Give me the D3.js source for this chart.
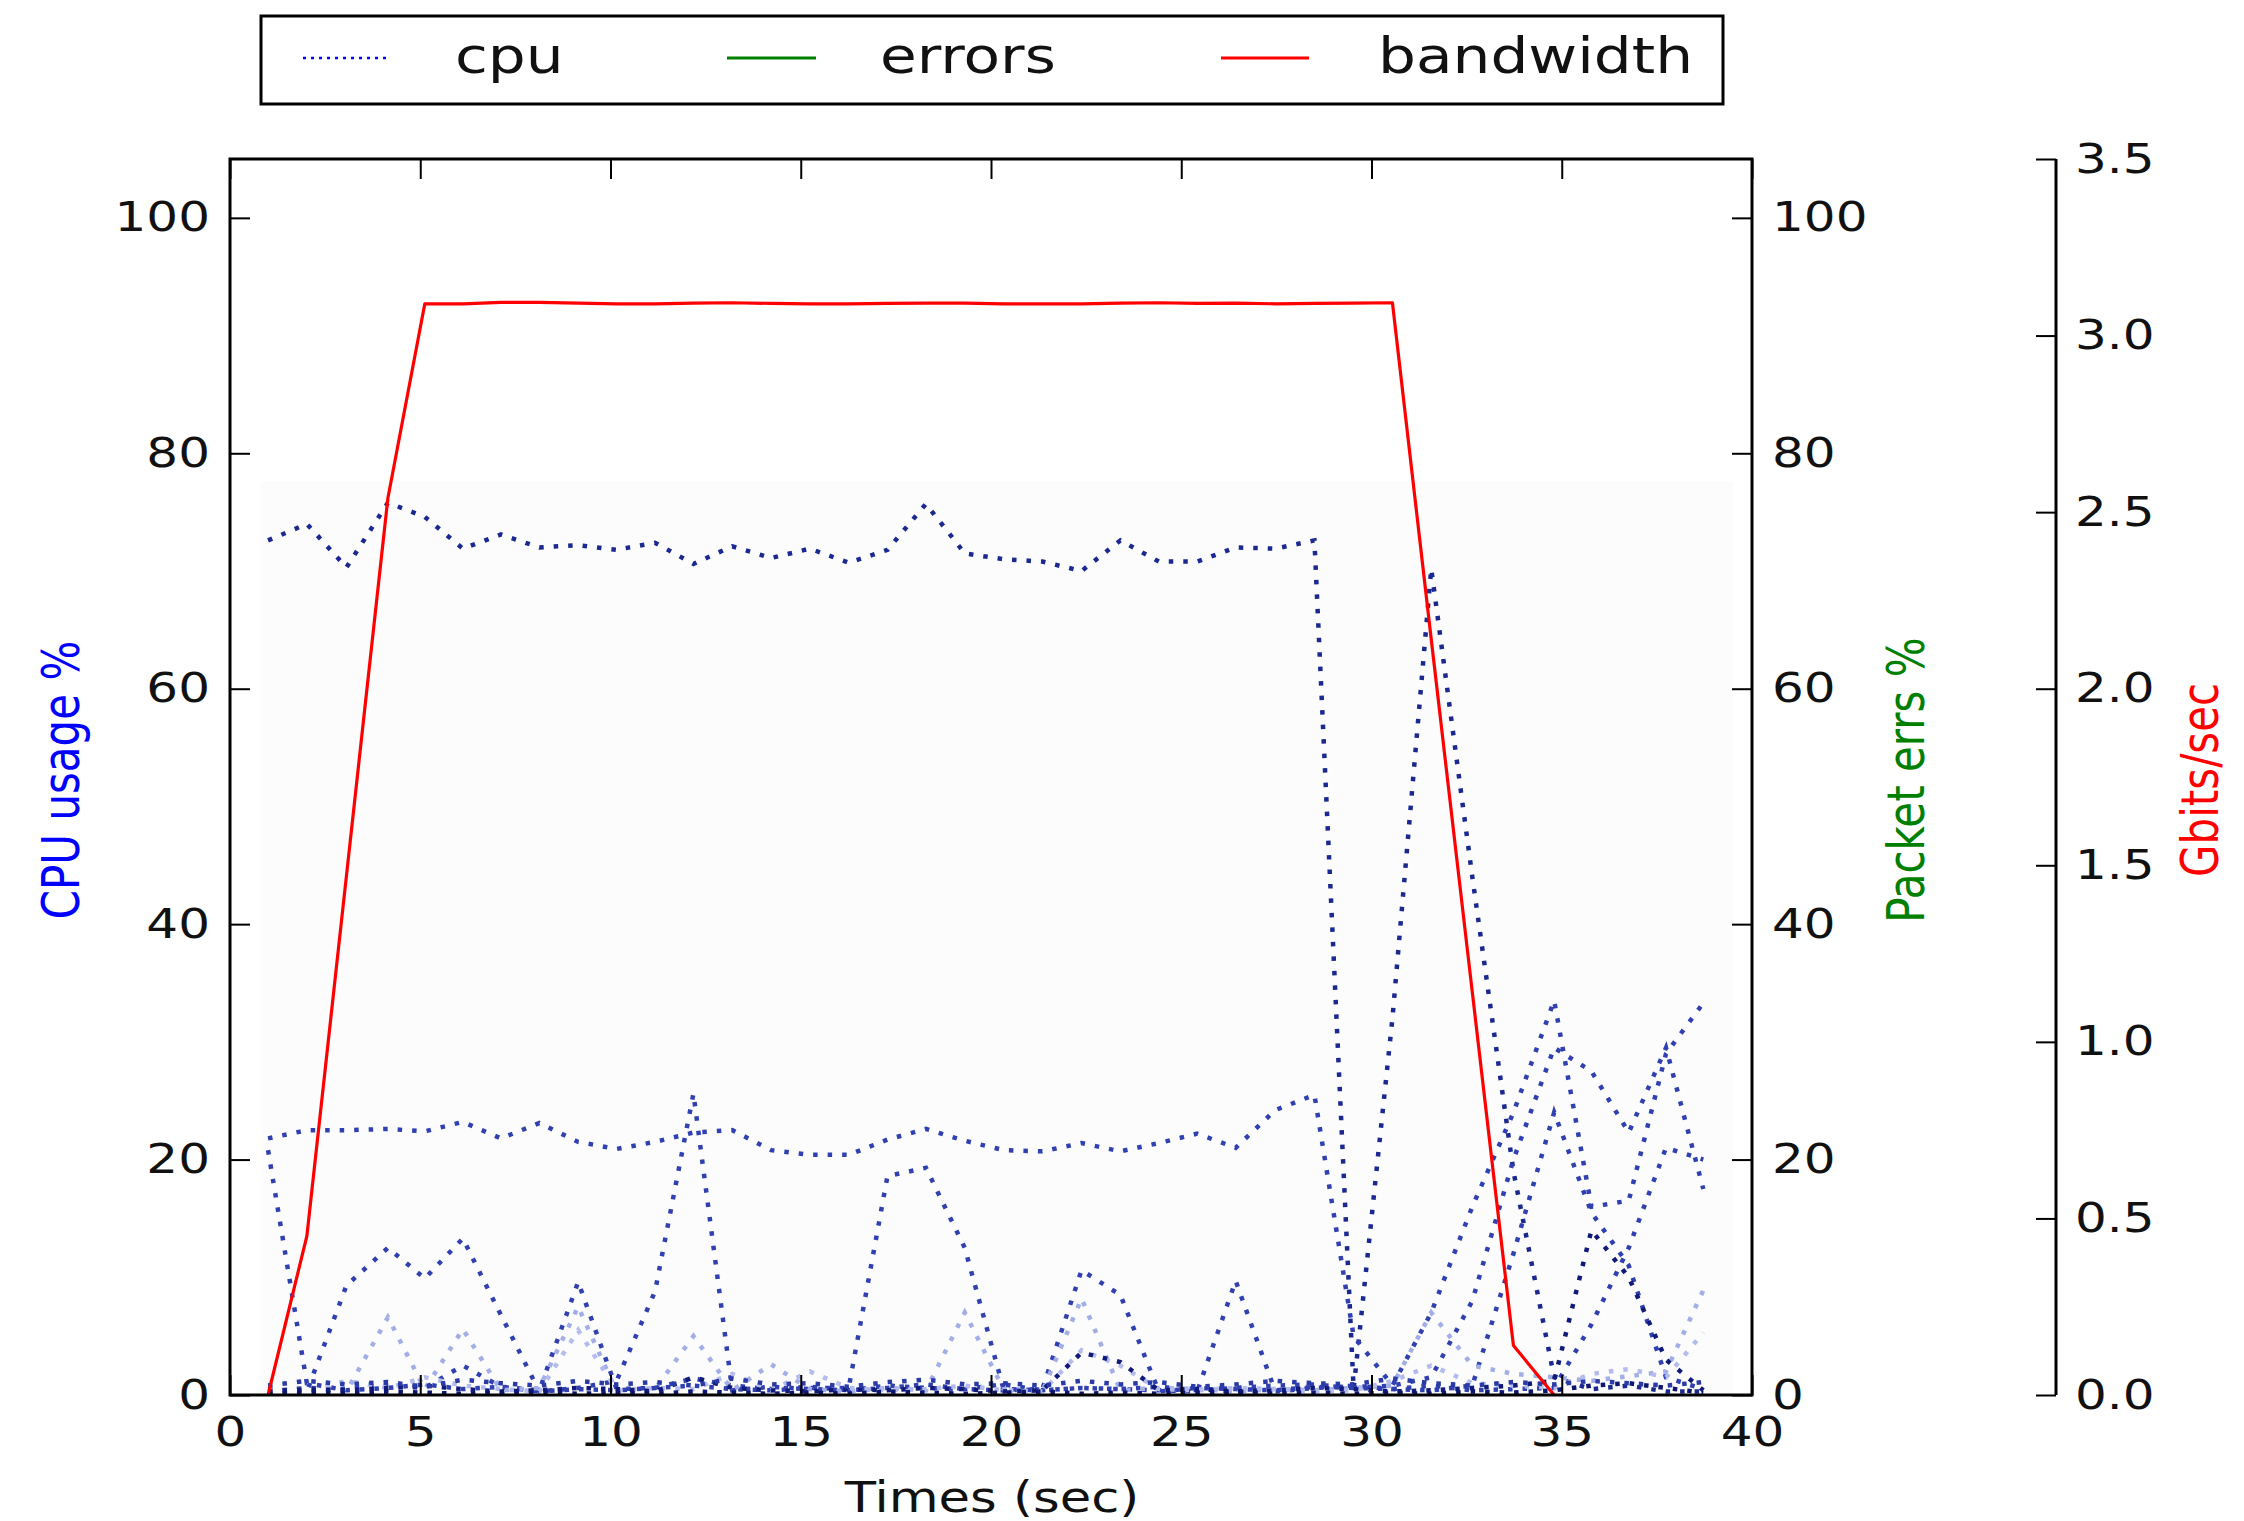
<!DOCTYPE html>
<html>
<head>
<meta charset="utf-8">
<script src="https://cdn.jsdelivr.net/npm/d3@7"></script>
<style>
  body { margin: 0; background: #fff; }
  svg { display: block; font-family: "DejaVu Sans", sans-serif; }
</style>
</head>
<body>
<div id="chart"></div>
<script>
// sample times (sec), shared by every series
const times = [1.00, 2.02, 3.06, 4.15, 5.12, 6.12, 7.12, 8.13, 9.15, 10.16,
  11.17, 12.18, 13.20, 14.22, 15.24, 16.26, 17.28, 18.29, 19.31, 20.33,
  21.35, 22.38, 23.40, 24.41, 25.42, 26.43, 27.47, 28.50, 29.53, 30.55,
  31.57, 32.65, 33.73, 34.80, 35.78, 36.76, 37.74, 38.72];

// cpu usage %, one array per core
const cpu0 = [72.6, 74.0, 70.3, 75.8, 74.6, 71.9, 73.1, 72.0, 72.2, 71.8,
  72.4, 70.6, 72.1, 71.1, 71.9, 70.7, 71.8, 75.7, 71.5, 71.0,
  70.8, 70.0, 72.6, 70.8, 70.8, 72.0, 71.9, 72.6, 0.5, 32.0,
  70.2, 44.0, 19.0, 1.5, 0.5, 0.8, 0.3, 0.3];
const cpu1 = [21.8, 22.5, 22.5, 22.6, 22.4, 23.2, 21.8, 23.1, 21.5, 20.9,
  21.5, 22.3, 22.5, 20.8, 20.4, 20.4, 21.7, 22.6, 21.6, 20.8,
  20.7, 21.4, 20.7, 21.4, 22.2, 21.0, 24.2, 25.5, 5.0, 0.8,
  7.0, 16.0, 24.0, 33.5, 16.0, 16.5, 29.0, 33.3];
const cpu2 = [20.8, 1.0, 0.4, 0.6, 0.9, 0.5, 0.7, 0.3, 0.6, 1.2,
  8.8, 25.6, 0.4, 0.7, 0.5, 0.4, 0.8, 0.6, 0.5, 0.9,
  0.4, 0.6, 0.5, 0.7, 0.4, 0.6, 0.8, 0.9, 0.6, 0.8,
  1.5, 8.0, 20.0, 29.5, 27.5, 22.3, 29.5, 17.5];
const cpu3 = [0.5, 0.3, 9.3, 12.5, 9.9, 13.3, 6.8, 0.3, 0.5, 0.4,
  0.6, 0.8, 0.5, 0.4, 0.6, 0.6, 18.6, 19.3, 12.5, 0.5,
  0.4, 0.6, 0.5, 0.4, 0.3, 9.7, 0.3, 0.6, 0.8, 0.5,
  0.4, 0.8, 12.0, 24.0, 15.5, 11.0, 1.5, 0.5];
const cpu4 = [0.3, 0.6, 0.5, 0.8, 0.6, 2.5, 0.7, 0.4, 9.6, 0.5,
  0.6, 1.4, 0.8, 0.5, 0.7, 0.4, 0.6, 0.9, 0.5, 0.4,
  0.5, 10.6, 8.5, 0.3, 0.6, 0.5, 0.4, 0.7, 0.6, 0.5,
  0.8, 0.4, 0.5, 0.6, 6.0, 12.5, 21.0, 20.0];
const cpu5 = [0.2, 0.5, 0.3, 6.6, 0.5, 5.6, 0.4, 0.6, 7.5, 0.3,
  0.5, 5.0, 0.4, 2.6, 0.5, 0.3, 0.6, 0.4, 7.0, 0.5,
  0.3, 8.2, 0.4, 0.6, 0.5, 0.3, 0.5, 0.4, 0.6, 0.8,
  7.0, 2.5, 1.8, 1.5, 1.2, 1.6, 2.0, 8.9];
const cpu6 = [0.4, 0.3, 1.2, 0.6, 1.5, 0.8, 0.5, 0.3, 5.5, 0.4,
  0.6, 0.5, 1.8, 0.4, 2.0, 0.6, 0.4, 0.5, 0.8, 0.4,
  0.3, 3.8, 2.5, 0.5, 0.4, 0.6, 0.5, 0.3, 0.4, 1.2,
  2.5, 1.0, 0.8, 0.6, 1.8, 2.2, 1.5, 5.3];
const cpu7 = [0.3, 0.5, 0.4, 0.6, 0.8, 0.5, 0.3, 0.4, 0.6, 0.5,
  0.3, 1.5, 0.6, 0.4, 0.3, 0.5, 0.4, 0.6, 0.5, 0.3,
  0.4, 3.6, 2.8, 0.4, 0.5, 0.3, 0.4, 0.6, 0.5, 0.3,
  0.4, 0.6, 0.8, 1.2, 14.0, 10.0, 3.0, 0.4];
const cpu8 = [0.1, 0.2, 0.1, 0.3, 0.2, 0.1, 0.2, 0.3, 0.1, 0.2,
  0.1, 0.3, 0.2, 0.1, 0.2, 0.1, 0.3, 0.2, 0.1, 0.2,
  0.3, 0.1, 0.2, 0.1, 0.2, 0.3, 0.1, 0.2, 0.1, 0.2,
  0.1, 0.3, 0.2, 0.4, 0.8, 1.0, 0.6, 0.2];
const cpu9 = [0.8, 1.2, 0.9, 1.1, 0.7, 1.3, 1.0, 0.8, 1.2, 0.9,
  1.1, 0.8, 1.4, 0.9, 1.0, 0.7, 1.1, 1.3, 0.9, 1.0,
  0.8, 1.2, 0.9, 1.1, 0.7, 0.9, 1.2, 1.0, 0.9, 1.4,
  1.0, 0.8, 1.1, 0.9, 1.2, 1.0, 0.8, 1.1];

// packet errors %
const errors = [0, 0, 0, 0, 0, 0, 0, 0, 0, 0,
  0, 0, 0, 0, 0, 0, 0, 0, 0, 0,
  0, 0, 0, 0, 0, 0, 0, 0, 0, 0,
  0, 0, 0, 0, 0, 0, 0, 0];

// bandwidth Gbits/sec (stops after the 34th sample)
const bandwidth = [0.00, 0.45, 1.47, 2.54, 3.090, 3.090, 3.094, 3.094, 3.092, 3.090,
  3.090, 3.092, 3.093, 3.091, 3.090, 3.090, 3.091, 3.092, 3.092, 3.090,
  3.090, 3.090, 3.092, 3.093, 3.091, 3.092, 3.090, 3.091, 3.092, 3.093,
  2.14, 1.14, 0.14, 0.00];

const xTicks = [0, 5, 10, 15, 20, 25, 30, 35, 40];
const cpuTicks = [0, 20, 40, 60, 80, 100];
const bwTicks = [0, 0.5, 1.0, 1.5, 2.0, 2.5, 3.0, 3.5];

const legendLabels = ['cpu', 'errors', 'bandwidth'];

// --- layout ---
const W = 2244, H = 1521;
const plotL = 230, plotR = 1752, plotT = 159, plotB = 1395;
const thirdAxisX = 2056;
const SX = 1.22;           // the source image is stretched sideways
const tickFont = 41;

const cpuCores = [cpu0, cpu1, cpu2, cpu3, cpu4, cpu5, cpu6, cpu7, cpu8, cpu9];
const coreColor = ['#1a2890', '#3040b0', '#3040b0', '#3040b0', '#3040b0',
  '#a3aee6', '#b3bcec', '#101a78', '#0d1670', '#2a3aa6'];

const svg = d3.select('#chart').append('svg')
  .attr('width', W).attr('height', H);

const x = d3.scaleLinear().domain([0, 40]).range([plotL, plotR]);
const yCpu = d3.scaleLinear().domain([0, 105]).range([plotB, plotT]);
const yErr = d3.scaleLinear().domain([0, 105]).range([plotB, plotT]);
const yBw = d3.scaleLinear().domain([0, 3.5]).range([plotB, plotT]);

svg.append('defs').append('clipPath').attr('id', 'plotclip')
  .append('rect').attr('x', plotL).attr('y', plotT)
  .attr('width', plotR - plotL).attr('height', plotB - plotT);

// faint grey block behind the cpu traces
svg.append('rect')
  .attr('x', x(0.8)).attr('y', yCpu(77.6))
  .attr('width', x(39.5) - x(0.8)).attr('height', yCpu(0) - yCpu(77.6))
  .attr('fill', '#fcfcfd');

const plot = svg.append('g').attr('clip-path', 'url(#plotclip)');

// cpu lines, dotted
const cpuLine = d3.line().x((d, i) => x(times[i])).y(d => yCpu(d));
cpuCores.forEach((core, k) => {
  plot.append('path')
    .datum(core)
    .attr('d', cpuLine)
    .attr('fill', 'none')
    .attr('stroke', coreColor[k])
    .attr('stroke-width', 4.5)
    .attr('stroke-dasharray', '4.5 10');
});

// errors
plot.append('path')
  .datum(errors)
  .attr('d', d3.line().x((d, i) => x(times[i])).y(d => yErr(d)))
  .attr('fill', 'none').attr('stroke', '#008000').attr('stroke-width', 2);

// bandwidth
plot.append('path')
  .datum(bandwidth)
  .attr('d', d3.line().x((d, i) => x(times[i])).y(d => yBw(d)))
  .attr('fill', 'none').attr('stroke', '#ff0000').attr('stroke-width', 3.2)
  .attr('stroke-linejoin', 'round');

// stretch tick labels sideways like the source
function stretchText(sel) {
  sel.selectAll('text').each(function () {
    const t = d3.select(this);
    const tx = +t.attr('x') || 0;
    t.attr('x', 0).attr('transform', `translate(${tx},0) scale(${SX},1)`);
  });
}
function styleAxis(g) {
  g.select('.domain').remove();
  g.selectAll('.tick line').attr('stroke', '#000').attr('stroke-width', 2);
  g.selectAll('text').attr('font-size', tickFont).attr('fill', '#111')
    .attr('font-family', '"DejaVu Sans", sans-serif');
}

// axes
const gBottom = svg.append('g').attr('transform', `translate(0,${plotB})`)
  .call(d3.axisBottom(x).tickValues(xTicks).tickSize(-20).tickPadding(22).tickFormat(d3.format('d')));
styleAxis(gBottom); stretchText(gBottom);

const gTop = svg.append('g').attr('transform', `translate(0,${plotT})`)
  .call(d3.axisTop(x).tickValues(xTicks).tickSize(-20).tickFormat(''));
styleAxis(gTop);

const gLeft = svg.append('g').attr('transform', `translate(${plotL},0)`)
  .call(d3.axisLeft(yCpu).tickValues(cpuTicks).tickSize(-20).tickPadding(20));
styleAxis(gLeft); stretchText(gLeft);

const gRight = svg.append('g').attr('transform', `translate(${plotR},0)`)
  .call(d3.axisRight(yErr).tickValues(cpuTicks).tickSize(-20).tickPadding(20));
styleAxis(gRight); stretchText(gRight);

const gBw = svg.append('g').attr('transform', `translate(${thirdAxisX},0)`)
  .call(d3.axisRight(yBw).tickValues(bwTicks).tickSize(-20).tickPadding(19).tickFormat(d3.format('.1f')));
styleAxis(gBw); stretchText(gBw);
svg.append('line')
  .attr('x1', thirdAxisX).attr('x2', thirdAxisX)
  .attr('y1', yBw(3.5)).attr('y2', yBw(0))
  .attr('stroke', '#000').attr('stroke-width', 3);

// frame
svg.append('rect')
  .attr('x', plotL).attr('y', plotT)
  .attr('width', plotR - plotL).attr('height', plotB - plotT)
  .attr('fill', 'none').attr('stroke', '#000').attr('stroke-width', 3);

// axis titles
function title(txt, cx, cy, color, rot) {
  svg.append('text')
    .attr('transform', `translate(${cx},${cy}) scale(${SX},1)` + (rot ? ' rotate(-90)' : ''))
    .attr('text-anchor', 'middle')
    .attr('dy', rot ? '0.36em' : 0)
    .attr('font-size', 42)
    .attr('fill', color)
    .text(txt);
}
title('CPU usage %', 61, 780, '#0000ff', true);
title('Packet errs %', 1906, 780, '#008000', true);
title('Gbits/sec', 2200, 780, '#ff0000', true);
title('Times (sec)', 992, 1512, '#111', false);

// legend
const legend = svg.append('g');
legend.append('rect')
  .attr('x', 261).attr('y', 16).attr('width', 1462).attr('height', 88)
  .attr('fill', '#fff').attr('stroke', '#000').attr('stroke-width', 3);
const legendSample = [
  { x0: 303, x1: 389, color: '#0000ff', dash: '3 5', w: 2.5 },
  { x0: 727, x1: 816, color: '#008000', dash: null, w: 3 },
  { x0: 1221, x1: 1309, color: '#ff0000', dash: null, w: 3 }
];
const legendTextX = [455, 880, 1378];
legendLabels.forEach((lab, i) => {
  const s = legendSample[i];
  legend.append('line')
    .attr('x1', s.x0).attr('x2', s.x1).attr('y1', 58).attr('y2', 58)
    .attr('stroke', s.color).attr('stroke-width', s.w)
    .attr('stroke-dasharray', s.dash);
  legend.append('text')
    .attr('transform', `translate(${legendTextX[i]},73) scale(${SX},1)`)
    .attr('font-size', 49)
    .attr('fill', '#111')
    .text(lab);
});
</script>
</body>
</html>
